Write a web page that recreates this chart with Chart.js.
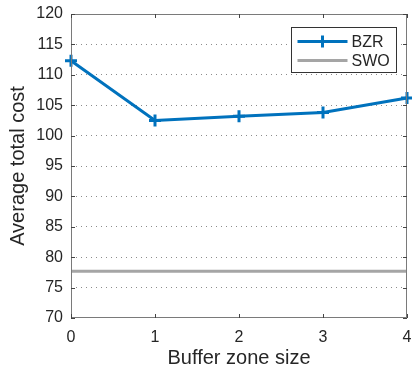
<!DOCTYPE html>
<html>
<head>
<meta charset="utf-8">
<script src="https://cdn.jsdelivr.net/npm/chart.js@4/dist/chart.umd.min.js"></script>
<style>
  html, body { margin: 0; padding: 0; background: #fff; }
  #wrap { width: 412px; height: 370px; }
</style>
</head>
<body>
<div id="wrap"><canvas id="c" width="412" height="370"></canvas></div>
<script>
// Buffer zone sizes on the x axis
const bufferSizes = [0, 1, 2, 3, 4];
// Average total cost of the buffer-zone-reservation policy
const bzrCost = [112.3, 102.5, 103.2, 103.8, 106.2];
// Constant cost of the SWO policy
const swoCost = 77.7;
// Tick values
const yTicks = [70, 75, 80, 85, 90, 95, 100, 105, 110, 115, 120];

const FONT = '"Liberation Sans", Arial, Helvetica, sans-serif';
const BLUE = '#0072BD';
const GREY = '#A5A5A5';
const AXIS = '#7a7a7a';
const TEXT = '#262626';

// Box around the plot area plus inward tick marks and an in-plot legend
const boxPlugin = {
  id: 'boxAndLegend',
  afterDatasetsDraw(chart) {
    const { ctx, chartArea: a, scales } = chart;
    ctx.save();
    ctx.strokeStyle = AXIS;
    ctx.lineWidth = 1;
    ctx.strokeRect(a.left + 0.5, a.top + 0.5, a.right - a.left - 1, a.bottom - a.top - 1);
    // inward ticks
    ctx.strokeStyle = '#444';
    ctx.beginPath();
    bufferSizes.forEach(v => {
      const x = Math.round(scales.x.getPixelForValue(v)) + 0.5;
      ctx.moveTo(x, a.bottom); ctx.lineTo(x, a.bottom - 4);
      ctx.moveTo(x, a.top); ctx.lineTo(x, a.top + 4);
    });
    yTicks.forEach(v => {
      const y = Math.round(scales.y.getPixelForValue(v)) + 0.5;
      ctx.moveTo(a.left, y); ctx.lineTo(a.left + 4, y);
      ctx.moveTo(a.right, y); ctx.lineTo(a.right - 4, y);
    });
    ctx.stroke();

    // legend box
    const lx = 291.5, ly = 27.5, lw = 105, lh = 45;
    ctx.fillStyle = '#fff';
    ctx.fillRect(lx, ly, lw, lh);
    ctx.strokeStyle = '#333';
    ctx.lineWidth = 1;
    ctx.strokeRect(lx, ly, lw, lh);
    chart.data.datasets.forEach((ds, i) => {
      const cy = ly + 14 + i * 19;
      ctx.strokeStyle = ds.borderColor;
      ctx.lineWidth = 3;
      ctx.beginPath();
      ctx.moveTo(lx + 6, cy); ctx.lineTo(lx + 56, cy);
      ctx.stroke();
      if (ds.pointRadius > 0) {
        ctx.lineWidth = 3;
        ctx.beginPath();
        ctx.moveTo(lx + 31, cy - 6); ctx.lineTo(lx + 31, cy + 6);
        ctx.moveTo(lx + 25, cy); ctx.lineTo(lx + 37, cy);
        ctx.stroke();
      }
      ctx.fillStyle = TEXT;
      ctx.font = '16px ' + FONT;
      ctx.textBaseline = 'middle';
      ctx.fillText(ds.label, lx + 60, cy + 1);
    });
    ctx.restore();
  }
};

new Chart(document.getElementById('c'), {
  type: 'line',
  data: {
    datasets: [
      {
        label: 'BZR',
        data: bufferSizes.map((x, i) => ({ x, y: bzrCost[i] })),
        borderColor: BLUE,
        backgroundColor: BLUE,
        borderWidth: 3,
        pointStyle: 'cross',
        pointRadius: 6,
        pointBorderWidth: 3,
        pointHoverRadius: 6,
        tension: 0,
        clip: false
      },
      {
        label: 'SWO',
        data: [bufferSizes[0], bufferSizes[bufferSizes.length - 1]].map(x => ({ x, y: swoCost })),
        borderColor: GREY,
        backgroundColor: GREY,
        borderWidth: 3,
        pointRadius: 0,
        pointHoverRadius: 0,
        tension: 0
      }
    ]
  },
  options: {
    responsive: false,
    animation: false,
    devicePixelRatio: 1,
    layout: { autoPadding: false, padding: { top: 14, right: 5, left: 0, bottom: 0 } },
    plugins: { legend: { display: false }, tooltip: { enabled: false } },
    scales: {
      x: {
        type: 'linear',
        min: 0, max: 4,
        afterBuildTicks(s) { s.ticks = bufferSizes.map(v => ({ value: v })); },
        afterFit(s) { s.height = 52; s.paddingRight = 0; s.paddingLeft = 0; },
        grid: { display: false, drawTicks: false },
        border: { display: false },
        ticks: { color: TEXT, font: { family: FONT, size: 16 }, padding: 10, maxRotation: 0 },
        title: { display: true, text: 'Buffer zone size', color: TEXT, font: { family: FONT, size: 20 }, padding: { top: 3, bottom: 0 } }
      },
      y: {
        min: 70, max: 120,
        afterBuildTicks(s) { s.ticks = yTicks.map(v => ({ value: v })); },
        afterFit(s) { s.width = 71; s.paddingTop = 0; s.paddingBottom = 0; },
        grid: {
          color: ctx => (ctx.tick && (ctx.tick.value === 70 || ctx.tick.value === 120)) ? 'rgba(0,0,0,0)' : '#8c8c8c',
          lineWidth: 1,
          drawTicks: false
        },
        border: { display: false, dash: [1, 4] },
        ticks: { color: TEXT, font: { family: FONT, size: 16 }, padding: 8 },
        title: { display: true, text: 'Average total cost', color: TEXT, font: { family: FONT, size: 20 }, padding: { top: 6, bottom: 0 } }
      }
    }
  },
  plugins: [boxPlugin]
});
</script>
</body>
</html>
